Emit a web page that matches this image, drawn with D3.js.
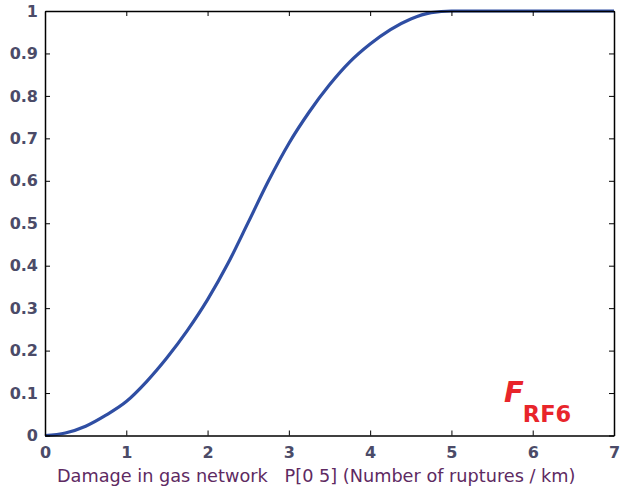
<!DOCTYPE html>
<html>
<head>
<meta charset="utf-8">
<script src="https://cdn.jsdelivr.net/npm/d3@7"></script>
<style>
  body { margin: 0; background: #fff; }
  svg { display: block; }
</style>
</head>
<body>
<div id="chart"></div>
<script>
// values
const xValues = [0, 0.25, 0.5, 0.75, 1, 1.25, 1.5, 1.75, 2, 2.25, 2.5, 2.75, 3, 3.25, 3.5, 3.75, 4, 4.25, 4.5, 4.75, 5, 5.5, 6, 6.5, 7];
const yValues = [0, 0.006, 0.022, 0.048, 0.08, 0.127, 0.183, 0.247, 0.32, 0.405, 0.502, 0.6, 0.688, 0.762, 0.826, 0.88, 0.922, 0.956, 0.981, 0.996, 1, 1, 1, 1, 1];
const xTicks = [0, 1, 2, 3, 4, 5, 6, 7];
const yTicks = [0, 0.1, 0.2, 0.3, 0.4, 0.5, 0.6, 0.7, 0.8, 0.9, 1];
const xAxisTitle = 'Damage in gas network   P[0 5] (Number of ruptures / km)';

const config = {
  width: 627,
  height: 493,
  margin: { top: 11, right: 13, bottom: 57.5, left: 45 },
  tickSize: 5,
  tickColor: '#4b4b68',
  titleColor: '#5e2a62',
  lineColor: '#2f4ea3'
};

const plotRight = config.width - config.margin.right;
const plotBottom = config.height - config.margin.bottom;

const x = d3.scaleLinear().domain([0, 7]).range([config.margin.left, plotRight]);
const y = d3.scaleLinear().domain([0, 1]).range([plotBottom, config.margin.top]);

const svg = d3.select('#chart').append('svg')
  .attr('width', config.width)
  .attr('height', config.height);

const points = xValues.map((v, i) => ({ x: v, y: yValues[i] }));

// curve
svg.append('path')
  .datum(points)
  .attr('fill', 'none')
  .attr('stroke', config.lineColor)
  .attr('stroke-width', 3.2)
  .attr('stroke-linejoin', 'round')
  .attr('d', d3.line().x(d => x(d.x)).y(d => y(d.y)).curve(d3.curveMonotoneX));

// frame with inward ticks on all four sides
const tickFormat = d => d3.format('~g')(d);
const styleAxis = g => {
  g.selectAll('.domain').attr('stroke', '#000').attr('stroke-width', 1.5);
  g.selectAll('.tick line').attr('stroke', '#000').attr('stroke-width', 1);
};
const styleLabels = g => g.selectAll('.tick text')
  .attr('fill', config.tickColor)
  .attr('font-family', 'DejaVu Sans')
  .attr('font-weight', 'bold')
  .attr('font-size', 16);

svg.append('g')
  .attr('transform', `translate(0,${plotBottom})`)
  .call(d3.axisBottom(x).tickValues(xTicks).tickSizeInner(-config.tickSize).tickSizeOuter(0).tickPadding(11).tickFormat(tickFormat))
  .call(styleAxis)
  .call(styleLabels);

svg.append('g')
  .attr('transform', `translate(0,${config.margin.top})`)
  .call(d3.axisTop(x).tickValues(xTicks).tickSizeInner(-config.tickSize).tickSizeOuter(0).tickFormat(''))
  .call(styleAxis);

svg.append('g')
  .attr('transform', `translate(${config.margin.left},0)`)
  .call(d3.axisLeft(y).tickValues(yTicks).tickSizeInner(-config.tickSize).tickSizeOuter(0).tickPadding(7).tickFormat(tickFormat))
  .call(styleAxis)
  .call(styleLabels);

svg.append('g')
  .attr('transform', `translate(${plotRight},0)`)
  .call(d3.axisRight(y).tickValues(yTicks).tickSizeInner(-config.tickSize).tickSizeOuter(0).tickFormat(''))
  .call(styleAxis);

// x axis label
svg.append('text')
  .attr('x', 57)
  .attr('y', 482)
  .attr('fill', config.titleColor)
  .attr('font-family', 'DejaVu Sans')
  .attr('font-size', 17.7)
  .style('white-space', 'pre')
  .text(xAxisTitle);

// F_RF6 label
const label = svg.append('text')
  .attr('x', 504)
  .attr('y', 402)
  .attr('fill', '#e8252b')
  .attr('font-family', 'DejaVu Sans')
  .attr('font-weight', 'bold');
label.append('tspan')
  .attr('font-size', 29)
  .attr('font-style', 'italic')
  .text('F');
label.append('tspan')
  .attr('font-size', 22.5)
  .attr('dx', -1)
  .attr('dy', 20)
  .text('RF6');
</script>
</body>
</html>
